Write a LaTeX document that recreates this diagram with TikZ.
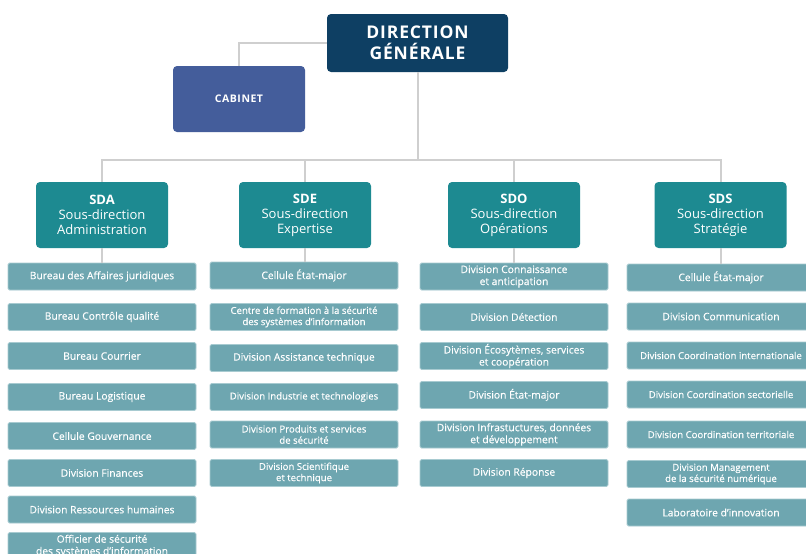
\documentclass[tikz,border=0pt]{standalone}
\usepackage{fontspec}
\setmainfont{Open Sans}
\newfontfamily\medfont{Open Sans}[FakeBold=0.35]
\newfontfamily\dgfont{Open Sans}[LetterSpace=5]
\definecolor{dgcol}{HTML}{0E3F63}
\definecolor{cabcol}{HTML}{445D9B}
\definecolor{sdcol}{HTML}{1D8A91}
\definecolor{itemcol}{HTML}{6EA6B0}
\definecolor{itemedge}{HTML}{A8CBD1}
\definecolor{linecol}{HTML}{CFCFCF}
\tikzset{
  dgbox/.style={fill=dgcol, rounded corners=4pt, minimum width=181pt, minimum height=58pt,
    text=white, align=center, font=\dgfont\fontsize{17.5}{21}\selectfont\bfseries, inner sep=0pt},
  cabbox/.style={fill=cabcol, rounded corners=4pt, minimum width=132pt, minimum height=66pt,
    text=white, font=\dgfont\fontsize{10.5}{12}\selectfont\bfseries, inner sep=0pt},
  sdbox/.style={fill=sdcol, rounded corners=4pt, minimum width=132pt, minimum height=66pt,
    text=white, align=center, font=\fontsize{13}{15}\selectfont, inner sep=0pt},
  itembox/.style={fill=itemcol, draw=itemedge, line width=0.8pt, rounded corners=1.5pt,
    minimum width=188pt, minimum height=27pt, text=white, align=center,
    font=\medfont\fontsize{10.3}{12}\selectfont, inner sep=0pt},
  smallitem/.style={itembox, font=\medfont\fontsize{9.6}{11.2}\selectfont},
  link/.style={draw=linecol, line width=2pt}
}
\begin{document}
\begin{tikzpicture}[x=1pt,y=-1pt]
\useasboundingbox (0,0) rectangle (806,554);
\fill[white] (0,0) rectangle (806,554);
% top
\node[dgbox] (dg) at (417.5,43) {DIRECTION\\GÉNÉRALE};
\node[cabbox] (cab) at (239,99) {CABINET};
% sub-directions
\node[sdbox] (sda) at (102,215) {\textbf{SDA}\\Sous-direction\\Administration};
\node[sdbox] (sde) at (305,215) {\textbf{SDE}\\Sous-direction\\Expertise};
\node[sdbox] (sdo) at (514,215) {\textbf{SDO}\\Sous-direction\\Opérations};
\node[sdbox] (sds) at (720.5,215) {\textbf{SDS}\\Sous-direction\\Stratégie};
% connectors
\draw[link] (dg.west) -| (cab.north);
\draw[link] (dg.south) -- ++(0,88);
\draw[link] (sda.north) -- ++(0,-22) -| (sds.north);
\draw[link] (sde.north) -- ++(0,-22);
\draw[link] (sdo.north) -- ++(0,-22);
% SDA items
\node[itembox] (a1) at (102,276.5) {Bureau des Affaires juridiques};
\node[itembox] (a2) at (102,317) {Bureau Contrôle qualité};
\node[itembox] (a3) at (102,356) {Bureau Courrier};
\node[itembox] (a4) at (102,397) {Bureau Logistique};
\node[itembox] (a5) at (102,436) {Cellule Gouvernance};
\node[itembox] (a6) at (102,473) {Division Finances};
\node[itembox] (a7) at (102,509.5) {Division Ressources humaines};
\node[itembox] (a8) at (102,546) {Officier de sécurité\\des systèmes d’information};
% SDE items
\node[itembox] (e1) at (304,275.5) {Cellule État-major};
\node[smallitem] (e2) at (304,317) {Centre de formation à la sécurité\\des systèmes d’information};
\node[itembox] (e3) at (304,358) {Division Assistance technique};
\node[smallitem] (e4) at (304,397) {Division Industrie et technologies};
\node[smallitem] (e5) at (304,434.5) {Division Produits et services\\de sécurité};
\node[smallitem] (e6) at (304,473) {Division Scientifique\\et technique};
% SDO items
\node[itembox] (o1) at (514,276.5) {Division Connaissance\\et anticipation};
\node[itembox] (o2) at (514,317) {Division Détection};
\node[itembox] (o3) at (514,356) {Division Écosytèmes, services\\et coopération};
\node[itembox] (o4) at (514,395) {Division État-major};
\node[itembox] (o5) at (514,434.5) {Division Infrastuctures, données\\et développement};
\node[itembox] (o6) at (514,473) {Division Réponse};
% SDS items
\node[itembox] (s1) at (721,277.5) {Cellule État-major};
\node[itembox] (s2) at (721,316.5) {Division Communication};
\node[smallitem] (s3) at (721,355.5) {Division Coordination internationale};
\node[smallitem] (s4) at (721,394.5) {Division Coordination sectorielle};
\node[smallitem] (s5) at (721,434.5) {Division Coordination territoriale};
\node[smallitem] (s6) at (721,474) {Division Management\\de la sécurité numérique};
\node[itembox] (s7) at (721,512.5) {Laboratoire d’innovation};
% links to first items
\draw[link] (sda.south) -- (a1.north);
\draw[link] (sde.south) -- (sde.south |- e1.north);
\draw[link] (sdo.south) -- (o1.north);
\draw[link] (sds.south) -- (sds.south |- s1.north);
\end{tikzpicture}
\end{document}
